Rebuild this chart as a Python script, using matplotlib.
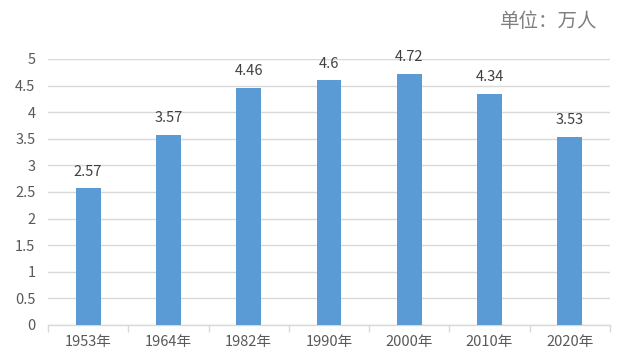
import matplotlib
matplotlib.use("Agg")
import matplotlib.pyplot as plt

plt.rcParams['font.family'] = ['Noto Sans CJK SC', 'DejaVu Sans']

categories = ["1953年", "1964年", "1982年", "1990年", "2000年", "2010年", "2020年"]
values = [2.57, 3.57, 4.46, 4.6, 4.72, 4.34, 3.53]
labels = ["2.57", "3.57", "4.46", "4.6", "4.72", "4.34", "3.53"]
yticks = [0, 0.5, 1, 1.5, 2, 2.5, 3, 3.5, 4, 4.5, 5]
ytick_labels = ["0", "0.5", "1", "1.5", "2", "2.5", "3", "3.5", "4", "4.5", "5"]

fig = plt.figure(figsize=(6.38, 3.63), dpi=100)
ax = fig.add_axes([0.0752, 0.1047, 0.956 - 0.0752, 0.8375 - 0.1047])

x = list(range(len(categories)))
ax.bar(x, values, width=0.31, color="#5B9BD5", zorder=3)
for xi, v, lab in zip(x, values, labels):
    ax.annotate(lab, (xi, v), xytext=(0, 7), textcoords="offset points",
                ha="center", va="bottom", fontsize=10.5, color="#404040")

ax.set_xlim(-0.5, len(categories) - 0.5)
ax.set_ylim(0, 5)
ax.set_yticks(yticks)
ax.set_yticklabels(ytick_labels)
ax.set_xticks(x)
ax.set_xticklabels(categories)
ax.set_xticks([i - 0.5 for i in range(len(categories) + 1)], minor=True)
ax.tick_params(axis="x", which="major", length=0, pad=7, labelsize=10.5, labelcolor="#595959")
ax.tick_params(axis="x", which="minor", length=5, color="#d9d9d9", width=1)
ax.tick_params(axis="y", length=0, pad=9, labelsize=10.5, labelcolor="#595959")
ax.grid(axis="y", color="#d9d9d9", linewidth=1, zorder=0)
for s in ["top", "right", "left"]:
    ax.spines[s].set_visible(False)
ax.spines["bottom"].set_color("#d9d9d9")
ax.spines["bottom"].set_linewidth(1)

fig.text(0.937, 0.94, "单位：万人", ha="right", va="center", fontsize=14,
         fontweight="light", color="#7f7f7f")

fig.savefig("out.png", dpi=100)
